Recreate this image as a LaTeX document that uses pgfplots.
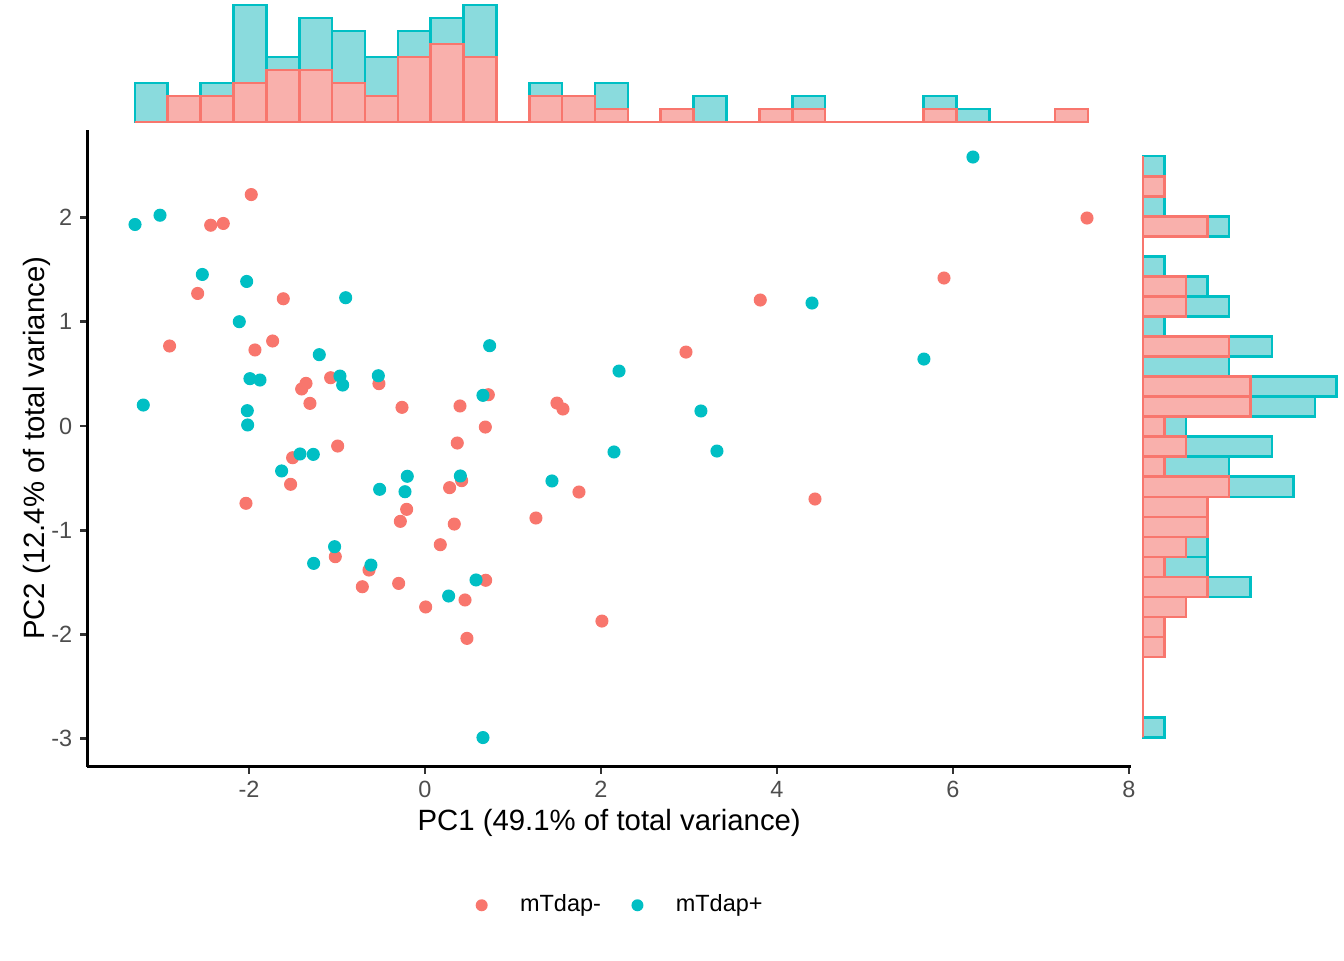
\documentclass[border=0pt]{standalone}
\usepackage{fontspec}
\setmainfont{Liberation Sans}
\usepackage{pgfplots}
\pgfplotsset{compat=1.18}
\definecolor{cred}{HTML}{F8766D}
\definecolor{cteal}{HTML}{00BFC4}
\definecolor{credfill}{HTML}{F9B0AC}
\definecolor{ctealfill}{HTML}{8ADBDD}
\definecolor{gthirty}{HTML}{4D4D4D}
\definecolor{gtwenty}{HTML}{333333}
\begin{document}
\begin{tikzpicture}
\useasboundingbox (0,0) rectangle (504pt,360pt);
% ---------------- main scatter ----------------
\begin{axis}[
  at={(32.81pt,72.56pt)}, anchor=south west,
  scale only axis, width=391.31pt, height=238.69pt,
  xmin=-3.835, xmax=8.023, ymin=-3.2646, ymax=2.838,
  enlargelimits=false,
  axis x line*=bottom, axis y line*=left,
  axis line style={line width=1.07pt, black, -},
  tick style={line width=1.07pt, gtwenty},
  tick align=outside, major tick length=2.75pt,
  xtick={-2,0,2,4,6,8}, xticklabels={-2,0,2,4,6,8},
  ytick={-3,-2,-1,0,1,2}, yticklabels={-3,-2,-1,0,1,2},
  minor tick num=0,
  xticklabel style={font=\fontsize{8.8}{10}\selectfont, text=gthirty, inner sep=0pt, anchor=base, yshift=-9.05pt},
  yticklabel style={font=\fontsize{8.8}{10}\selectfont, text=gthirty, inner sep=0pt, anchor=east, xshift=-2.8pt},
  xlabel={PC1 (49.1\% of total variance)},
  ylabel={PC2 (12.4\% of total variance)},
  xlabel style={at={(axis description cs:0.5,0)}, anchor=base, yshift=-24.1pt, inner sep=0pt, font=\fontsize{11}{13}\selectfont},
  ylabel style={at={(axis description cs:-0.0412,0.5)}, anchor=base, inner sep=0pt, font=\fontsize{11}{13}\selectfont},
  legend columns=2,
  legend cell align=left,
  legend style={at={(axis description cs:0.372,-0.218)}, anchor=west, draw=none, fill=none,
    inner sep=0pt, outer sep=0pt, font=\fontsize{8.8}{10}\selectfont,
    column sep=0pt,
    /tikz/every odd column/.style={column sep=0pt},
    /tikz/every even column/.style={column sep=11.45pt},
    nodes={inner sep=0pt, outer sep=0pt}},
  legend image code/.code={\fill[#1, draw=none] (0pt,0pt) circle (2.25pt); \path[draw=none, fill=none] (-2.25pt,-3.65pt) rectangle (14.4pt,2.25pt);},
]
\addplot[only marks, mark=*, mark size=2.25pt, color=cred, mark options={draw=none, fill=cred}] coordinates {
(-2.435,1.925) (-2.292,1.942) (-1.974,2.219) (-2.583,1.271) (-1.610,1.220)
(-2.902,0.767) (-1.932,0.729) (-1.731,0.815) (-1.352,0.409) (-1.401,0.355)
(-1.072,0.463) (-1.307,0.217) (-0.992,-0.192) (-1.504,-0.304) (-1.527,-0.559)
(-2.034,-0.741) (-0.208,-0.799) (-0.280,-0.914) (-1.019,-1.253) (-0.636,-1.381)
(-0.712,-1.541) (-0.299,-1.509) (-0.523,0.406) (-0.261,0.179) (0.398,0.192)
(0.720,0.300) (0.686,-0.010) (0.367,-0.163) (0.417,-0.524) (0.280,-0.591)
(0.333,-0.940) (0.174,-1.138) (0.690,-1.479) (0.455,-1.668) (0.008,-1.735)
(0.477,-2.036) (1.500,0.220) (1.568,0.163) (1.750,-0.633) (1.261,-0.882)
(2.011,-1.870) (2.966,0.709) (3.810,1.208) (4.432,-0.700) (5.898,1.419)
(7.523,1.994)
};
\addlegendentry{mTdap-}
\addplot[only marks, mark=*, mark size=2.25pt, color=cteal, mark options={draw=none, fill=cteal}] coordinates {
(-3.295,1.932) (-3.011,2.021) (-2.530,1.453) (-2.026,1.386) (-0.901,1.230)
(-2.110,1.000) (-1.201,0.684) (-1.989,0.454) (-1.875,0.441) (-0.966,0.479)
(-0.935,0.393) (-3.201,0.201) (-2.019,0.147) (-2.015,0.010) (-1.420,-0.268)
(-1.269,-0.272) (-1.629,-0.431) (-0.201,-0.482) (-0.515,-0.607) (-0.227,-0.630)
(-1.027,-1.157) (-1.265,-1.317) (-0.614,-1.333) (0.735,0.770) (-0.530,0.482)
(0.659,0.294) (0.402,-0.479) (0.580,-1.476) (0.269,-1.630) (0.659,-2.987)
(2.205,0.527) (1.443,-0.527) (2.148,-0.249) (3.136,0.144) (3.318,-0.240)
(4.398,1.179) (5.670,0.642) (6.227,2.579)
};
\addlegendentry{mTdap+}
\end{axis}
% ---------------- top marginal histogram ----------------
\begin{axis}[
  at={(32.81pt,314.25pt)}, anchor=south west,
  scale only axis, width=391.31pt, height=45.75pt,
  xmin=-3.835, xmax=8.023, ymin=0, ymax=9.385,
  enlargelimits=false, hide axis, clip=false]
\addplot[ybar interval, draw=cteal, fill=ctealfill, line width=1pt] coordinates {
(-3.2955,3) (-2.9221,2) (-2.5487,3) (-2.1752,9) (-1.8018,5) (-1.4284,8) (-1.0550,7) (-0.6816,5)
(-0.3082,7) (0.0653,8) (0.4387,9) (0.8121,0) (1.1855,3) (1.5589,2) (1.9324,3) (2.3058,0)
(2.6792,1) (3.0526,2) (3.4260,0) (3.7994,1) (4.1729,2) (4.5463,0) (4.9197,0) (5.2931,0)
(5.6665,2) (6.0399,1) (6.4134,0) (6.7868,0) (7.1602,1) (7.5336,0)
};
\addplot[ybar interval, draw=cred, fill=credfill, line width=1pt] coordinates {
(-3.2955,0) (-2.9221,2) (-2.5487,2) (-2.1752,3) (-1.8018,4) (-1.4284,4) (-1.0550,3) (-0.6816,2)
(-0.3082,5) (0.0653,6) (0.4387,5) (0.8121,0) (1.1855,2) (1.5589,2) (1.9324,1) (2.3058,0)
(2.6792,1) (3.0526,0) (3.4260,0) (3.7994,1) (4.1729,1) (4.5463,0) (4.9197,0) (5.2931,0)
(5.6665,1) (6.0399,0) (6.4134,0) (6.7868,0) (7.1602,1) (7.5336,0)
};
\end{axis}
% ---------------- right marginal histogram ----------------
\begin{axis}[
  at={(428.625pt,72.56pt)}, anchor=south west,
  scale only axis, width=75.375pt, height=238.69pt,
  xmin=0, xmax=9.349, ymin=-3.2646, ymax=2.838,
  enlargelimits=false, hide axis, clip=false]
\addplot[xbar interval, draw=cteal, fill=ctealfill, line width=1pt] coordinates {
(1,-2.9847) (0,-2.7926) (0,-2.6004) (0,-2.4083) (1,-2.2162) (1,-2.0240) (2,-1.8319) (5,-1.6398)
(3,-1.4476) (3,-1.2555) (3,-1.0633) (3,-0.8712) (7,-0.6791) (4,-0.4869) (6,-0.2948) (2,-0.1027)
(8,0.0895) (9,0.2816) (4,0.4737) (6,0.6659) (1,0.8580) (4,1.0501) (3,1.2423) (1,1.4344)
(0,1.6266) (4,1.8187) (1,2.0108) (1,2.2030) (1,2.3951) (0,2.5873)
};
\addplot[xbar interval, draw=cred, fill=credfill, line width=1pt] coordinates {
(0,-2.9847) (0,-2.7926) (0,-2.6004) (0,-2.4083) (1,-2.2162) (1,-2.0240) (2,-1.8319) (3,-1.6398)
(1,-1.4476) (2,-1.2555) (3,-1.0633) (3,-0.8712) (4,-0.6791) (1,-0.4869) (2,-0.2948) (1,-0.1027)
(5,0.0895) (5,0.2816) (0,0.4737) (4,0.6659) (0,0.8580) (2,1.0501) (2,1.2423) (0,1.4344)
(0,1.6266) (3,1.8187) (0,2.0108) (1,2.2030) (0,2.3951) (0,2.5873)
};
\end{axis}
\end{tikzpicture}
\end{document}
